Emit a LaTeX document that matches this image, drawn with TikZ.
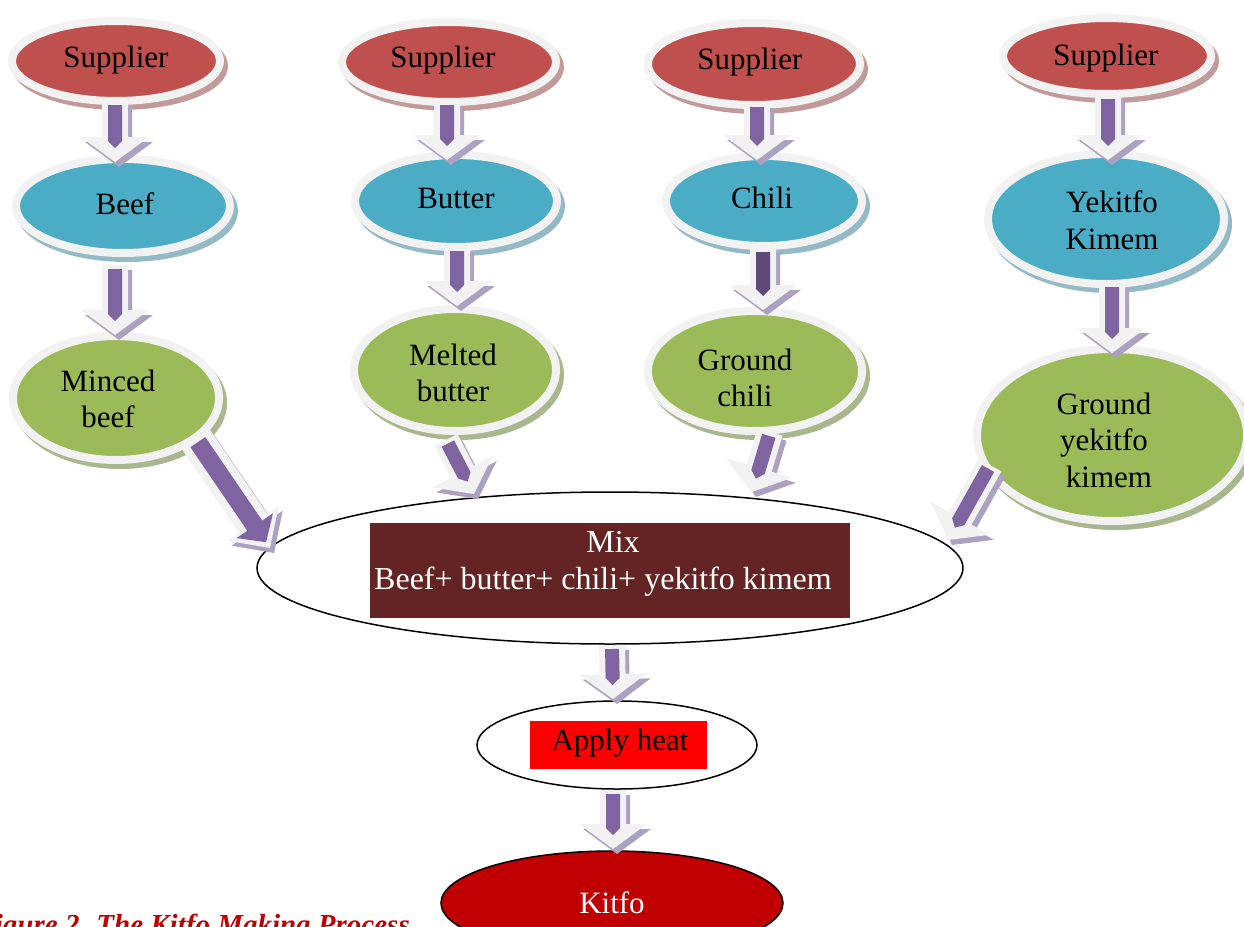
\documentclass[tikz,border=0pt]{standalone}
\usepackage{fontspec}
\setmainfont{Liberation Serif}
\usetikzlibrary{shapes.geometric,calc}
\definecolor{supred}{HTML}{C0504D}
\definecolor{supsh}{HTML}{C39A9A}
\definecolor{ingblue}{HTML}{4BACC6}
\definecolor{blush}{HTML}{93BAC6}
\definecolor{prepgreen}{HTML}{9BBB59}
\definecolor{grsh}{HTML}{A9B78F}
\definecolor{rimgray}{HTML}{F2F2F2}
\definecolor{arrp}{HTML}{8064A2}
\definecolor{arrpdark}{HTML}{5F497A}
\definecolor{arrsh}{HTML}{ADA1C2}
\definecolor{mixbrown}{HTML}{632423}
\definecolor{kitred}{HTML}{C00000}
\definecolor{heatred}{HTML}{FF0000}
\newcommand\bigtext{\fontsize{31}{36.5}\selectfont}
\newcommand\arrowsetup[2]{%
  \path let \p1=(#1), \p2=(#2),
    \n1={atan2((\y2)-(\y1),(\x2)-(\x1))},
    \n2={veclen((\x2)-(\x1),(\y2)-(\y1))} in
    \pgfextra{\xdef\BAang{\n1}\xdef\BAlen{\n2}\xdef\BAx{\x1}\xdef\BAy{\y1}};%
}
% #1 start, #2 end, #3 inner colour, #4 kind (0 narrow, 1 full head)
\newcommand\barrow[4]{%
  \arrowsetup{#1}{#2}%
  \ifnum#4=1
    \def\SW{17}\def\HW{31}\def\HL{30}%
  \else
    \def\SW{13}\def\HW{34}\def\HL{25}%
  \fi
  \begin{scope}[shift={(4pt,-5pt)}]
   \begin{scope}[shift={(\BAx,\BAy)},rotate=\BAang]
    \fill[arrsh] (0,\SW) -- ({\BAlen-\HL},\SW) -- ({\BAlen-\HL},\HW) -- (\BAlen,0)
      -- ({\BAlen-\HL},-\HW) -- ({\BAlen-\HL},-\SW) -- (0,-\SW) -- cycle;
   \end{scope}
  \end{scope}
  \begin{scope}[shift={(\BAx,\BAy)},rotate=\BAang]
    \fill[rimgray] (0,\SW) -- ({\BAlen-\HL},\SW) -- ({\BAlen-\HL},\HW) -- (\BAlen,0)
      -- ({\BAlen-\HL},-\HW) -- ({\BAlen-\HL},-\SW) -- (0,-\SW) -- cycle;
    \ifnum#4=1
      \fill[#3] (5,9) -- ({\BAlen-27},9) -- ({\BAlen-27},22) -- ({\BAlen-7},0)
        -- ({\BAlen-27},-22) -- ({\BAlen-27},-9) -- (5,-9) -- cycle;
    \else
      \fill[#3] (4,7) -- ({\BAlen-21},7) -- ({\BAlen-14},0) -- ({\BAlen-21},-7)
        -- (4,-7) -- cycle;
    \fi
  \end{scope}%
}
\begin{document}
\begin{tikzpicture}[x=1pt,y=-1pt,
  bub/.style 2 args={ellipse, draw=rimgray, line width=8pt, fill=#1,
    inner sep=0pt, outer sep=0pt,
    preaction={draw=#2, fill=#2, line width=8pt,
      transform canvas={shift={(4pt,-5pt)}}}},
  sup/.style={bub={supred}{supsh}},
  ing/.style={bub={ingblue}{blush}},
  prep/.style={bub={prepgreen}{grsh}},
  lbl/.style={inner sep=0pt, outer sep=0pt, font=\bigtext, text=black, align=center},
  plain/.style={ellipse, draw=black, line width=1.5pt, inner sep=0pt, outer sep=0pt},
  box/.style={rectangle, inner sep=0pt, outer sep=0pt, font=\bigtext, align=center}
]
\useasboundingbox (0,0) rectangle (1244,926);

% suppliers
\node[sup, minimum width=208, minimum height=80] (s1) at (116,61) {};
\node[sup, minimum width=214, minimum height=80] (s2) at (449,62) {};
\node[sup, minimum width=212, minimum height=82] (s3) at (754,64) {};
\node[sup, minimum width=208, minimum height=76] (s4) at (1107,56) {};
\node[lbl] (s1t) at (116,60) {Supplier};
\node[lbl] (s2t) at (443,60) {Supplier};
\node[lbl] (s3t) at (750,62) {Supplier};
\node[lbl] (s4t) at (1106,58) {Supplier};

% ingredients
\node[ing, minimum width=214, minimum height=94] (b1) at (123,206) {};
\node[ing, minimum width=202, minimum height=92] (b2) at (456,201) {};
\node[ing, minimum width=196, minimum height=90] (b3) at (764,201) {};
\node[ing, minimum width=236, minimum height=130] (b4) at (1106,219) {};
\node[lbl] (b1t) at (125,204) {Beef};
\node[lbl] (b2t) at (456,198) {Butter};
\node[lbl] (b3t) at (762,198) {Chili};
\node[lbl] (b4t) at (1112,220) {Yekitfo\\ Kimem};

% prepared
\node[prep, minimum width=206, minimum height=124] (g1) at (116,398) {};
\node[prep, minimum width=202, minimum height=122] (g2) at (455,370) {};
\node[prep, minimum width=214, minimum height=120] (g3) at (755,371) {};
\node[prep, minimum width=270, minimum height=172] (g4) at (1112,435) {};
\node[lbl] (g1t) at (108,399) {Minced\\beef};
\node[lbl] (g2t) at (453,373) {Melted\\butter};
\node[lbl] (g3t) at (745,378) {Ground\\chili};
\node[lbl] (g4t) at (1104,440) {Ground\\yekitfo\\\hspace*{10pt}kimem};

% mix
\node[plain, fill=white, minimum width=706, minimum height=152] (mix) at (610,568) {};
\node[box, fill=mixbrown, minimum width=480, minimum height=95] (mixbox) at (610,570.5) {};
\node[box, text=white, font=\fontsize{32}{37}\selectfont] (mixtext) at (603,564)
  {\hspace*{20pt}Mix\\Beef+ butter+ chili+ yekitfo kimem};

% apply heat
\node[plain, fill=white, minimum width=280, minimum height=88] (apply) at (617,745) {};
\node[box, fill=heatred, text=black, minimum width=177, minimum height=48] (applybox) at (618.5,745) {};
\node[lbl] (applyt) at (620,743) {Apply heat};

% kitfo
\node[plain, fill=kitred, minimum width=342, minimum height=104, font=\bigtext, text=white] (kitfo) at (612,903) {Kitfo};

% caption (cut off by the lower edge, as in the original)
\node[anchor=base east, inner sep=0pt, text=kitred, font=\fontsize{29}{34}\selectfont\bfseries\itshape] (cap) at (410,934) {Figure 2. The Kitfo Making Process};

% arrows
\barrow{$(s1.south)+(-1,0)$}{$(b1.north)+(-8,3)$}{arrp}{0}
\barrow{$(s2.south)+(-2,-1)$}{$(b2.north)+(-9,5)$}{arrp}{0}
\barrow{$(s3.south)+(3,-2)$}{$(b3.north)+(-7,4)$}{arrp}{0}
\barrow{$(s4.south)+(1,1)$}{$(b4.north)+(2,6)$}{arrp}{0}
\barrow{$(b1.south)+(-8,12)$}{$(g1.north)+(-1,-1)$}{arrp}{0}
\barrow{$(b2.south)+(1,0)$}{$(g2.north)+(2,-3)$}{arrp}{0}
\barrow{$(b3.south)+(-1,2)$}{$(g3.north)+(8,-1)$}{arrpdark}{0}
\barrow{$(b4.south)+(6,-1)$}{$(g4.north)+(0,4)$}{arrp}{0}
\barrow{$(g1.center)+(79,40)$}{$(mix.center)+(-340,-20)$}{arrp}{1}
\barrow{$(g2.center)+(-9,70)$}{$(mix.center)+(-136,-74)$}{arrp}{0}
\barrow{$(g3.center)+(15,61)$}{$(mix.center)+(142,-76)$}{arrp}{0}
\barrow{$(g4.center)+(-122,30)$}{$(mix.center)+(338,-28)$}{arrp}{0}
\barrow{$(mix.south)+(2,1)$}{$(apply.north)+(-4,-2)$}{arrp}{0}
\barrow{$(apply.south)+(-4,1)$}{$(kitfo.north)+(1,-2)$}{arrp}{0}
\end{tikzpicture}
\end{document}
